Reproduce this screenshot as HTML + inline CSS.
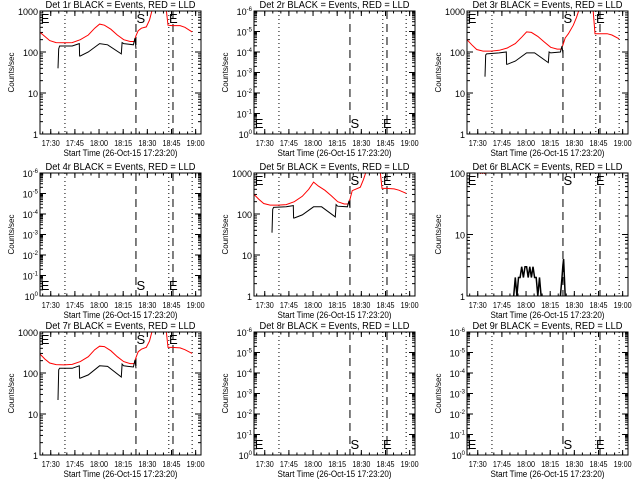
<!DOCTYPE html>
<html><head><meta charset="utf-8"><style>
body{margin:0;background:#fff}
svg{display:block;font-family:"Liberation Sans",sans-serif}
</style></head><body>
<svg id="c" width="640" height="480" xmlns="http://www.w3.org/2000/svg"></svg>
<script>
// time in minutes since 17:23:20, range 0..100
const tickLabels=["17:30","17:45","18:00","18:15","18:30","18:45","19:00"];
const tickMinutes=[6.67,21.67,36.67,51.67,66.67,81.67,96.67];
const dottedLines=[15.5,80,94.5];
const dashedLines=[59.6,82.6];
const red1T=[0,3,6,10,15,20,25,30,34,37,40,44,48,52,56,58.5,59.6,61,63,66,68,70,72,78,79.5,82,87,90,94.5];
const red1V=[300,240,190,170,168,170,200,260,380,480,450,360,260,200,180,180,250,330,380,410,600,1200,1500,1500,450,440,440,400,310];
const blk1T=[11.2,11.6,12.2,20,24.4,24.6,25,30,37,42,50.5,51,52,58,59,59.6];
const blk1V=[40,120,140,140,160,80,80,100,160,150,90,170,160,150,220,120];
const red3V=[200,150,115,105,105,110,125,160,230,310,300,240,175,130,118,118,150,220,280,450,700,1200,1500,1500,280,280,280,260,210];
const blk3V=[25,85,90,95,100,50,50,60,95,95,55,100,95,100,140,90];
const red5V=[300,230,180,165,165,170,200,270,400,600,480,380,280,200,175,175,230,370,400,450,700,1200,1500,1500,420,420,410,380,320];
const blk5V=[35,130,145,150,160,80,80,95,150,150,85,170,155,150,210,140];
const red7V=[290,220,175,160,158,162,190,250,370,450,440,350,250,190,170,170,240,330,380,420,600,1200,1500,1500,420,420,410,370,300];
const blk7V=[22,120,130,130,150,75,75,90,150,145,80,165,150,140,210,130];
const blk6T=[29,30,31,32,33,34,35,36,37,38,39,40,41,42,43,44,45,46,47,58,59,59.5,60,60.5,61];
const blk6V=[1,2,1,2,2,3,2,3,3,2,3,2,3,2,2,1,2,1,1,1,2,3,4,2,1];
const NS='http://www.w3.org/2000/svg';
const svg=document.getElementById('c');
function el(t,a,p){const e=document.createElementNS(NS,t);for(const k in a)e.setAttribute(k,a[k]);(p||svg).appendChild(e);return e;}
const cols=[40,254,467],rows=[11,173,332],W=161,H=123;
const panels=[
 {n:1,type:'data',r:red1V,b:blk1V},{n:2,type:'empty'},{n:3,type:'data',r:red3V,b:blk3V},
 {n:4,type:'empty'},{n:5,type:'data',r:red5V,b:blk5V},{n:6,type:'six'},
 {n:7,type:'data',r:red7V,b:blk7V},{n:8,type:'empty'},{n:9,type:'empty'}];
panels.forEach((p,i)=>{
 const L=cols[i%3],T=rows[Math.floor(i/3)],B=T+H,R=L+W;
 const g=el('g',{});
 
 
 const xs=m=>L+m*W/100;
 let ymin,ymax;
 if(p.type=='data'){ymin=0;ymax=3;} else if(p.type=='six'){ymin=0;ymax=2;} else {ymin=0;ymax=6;}
 const ys=v=>{let lv=Math.log10(v);lv=Math.max(ymin-0.1,Math.min(ymax+0.3,lv));return B-(lv-ymin)/(ymax-ymin)*H;};
 const ysl=l=>B-(l-ymin)/(ymax-ymin)*H;
 const tt=el('text',{x:L+W/2-75,y:T-3,'font-size':10,textLength:150,lengthAdjust:'spacingAndGlyphs'},g);
 tt.textContent='Det '+p.n+'r BLACK = Events, RED = LLD';
 
 
 const cp=el('clipPath',{id:'cp'+i},g);el('rect',{x:L,y:T,width:W,height:H},cp);
 tickMinutes.forEach((m,k)=>{
  const x=xs(m);
  el('line',{x1:x,x2:x,y1:B,y2:B-5,stroke:'#000'},g);el('line',{x1:x,x2:x,y1:T,y2:T+5,stroke:'#000'},g);
  const t=el('text',{x:x-9,y:B+12,'font-size':8,textLength:18,lengthAdjust:'spacingAndGlyphs'},g);t.textContent=tickLabels[k];
 });
 for(let m=1.67;m<100;m+=5){const x=xs(m);el('line',{x1:x,x2:x,y1:B,y2:B-2.5,stroke:'#000'},g);el('line',{x1:x,x2:x,y1:T,y2:T+2.5,stroke:'#000'},g);}
 const xl=el('text',{x:L+W/2-57,y:B+22,'font-size':9,textLength:114,lengthAdjust:'spacingAndGlyphs'},g);xl.textContent='Start Time (26-Oct-15 17:23:20)';
 
 
 const yl=el('text',{x:0,y:0,'text-anchor':'middle','font-size':8,transform:`translate(${L-26},${T+H/2}) rotate(-90)`},g);yl.textContent='Counts/sec';
 
 
 for(let d=ymin;d<=ymax;d++){
  const y=ysl(d);
  el('line',{x1:L,x2:L+6,y1:y,y2:y,stroke:'#000'},g);el('line',{x1:R,x2:R-6,y1:y,y2:y,stroke:'#000'},g);
  const t=el('text',{x:L-2,y:y+4,'text-anchor':'end','font-size':9},g);
  if(p.type=='empty'){
   t.textContent='10';const s=el('tspan',{dy:-4,'font-size':6},t);s.textContent=d==0?'0':'-'+d;
  } else t.textContent=String(Math.pow(10,d));
  if(d<ymax)for(let k=2;k<10;k++){const yy=ysl(d+Math.log10(k));el('line',{x1:L,x2:L+3,y1:yy,y2:yy,stroke:'#000'},g);el('line',{x1:R,x2:R-3,y1:yy,y2:yy,stroke:'#000'},g);}
 }
 dottedLines.forEach(m=>el('line',{x1:xs(m),x2:xs(m),y1:T,y2:B,stroke:'#000','stroke-dasharray':'1,3'},g));
 dashedLines.forEach(m=>el('line',{x1:xs(m),x2:xs(m),y1:T,y2:B,stroke:'#000','stroke-dasharray':'8,5'},g));
 const cg=el('g',{'clip-path':`url(#cp${i})`},g);
 if(p.type=='data'){
  let d='';red1T.forEach((m,k)=>{d+=(k?'L':'M')+xs(m).toFixed(1)+','+ys(p.r[k]).toFixed(1);});
  const pr=el('path',{d:d,fill:'none',stroke:'#f00'},cg);
  
  
  d='';blk1T.forEach((m,k)=>{d+=(k?'L':'M')+xs(m).toFixed(1)+','+ys(p.b[k]).toFixed(1);});
  const pb=el('path',{d:d,fill:'none',stroke:'#000'},cg);
  
  
 }
 if(p.type=='six'){
  let d='';blk6T.forEach((m,k)=>{d+=(k&&blk6T[k]-blk6T[k-1]<3?'L':'M')+xs(m).toFixed(1)+','+ys(blk6V[k]).toFixed(1);});
  const pb=el('path',{d:d,fill:'none',stroke:'#000','stroke-width':1.5},cg);
  
  
  el('line',{x1:xs(8),x2:xs(12),y1:T+0.5,y2:T+0.5,stroke:'#f00','stroke-dasharray':'1,1'},g);
 }
 const my=p.type=='empty'?B-6:T+12;
 [['E',0.5],['S',dashedLines[0]+0.3],['E',dashedLines[1]-2.5]].forEach(([s,m])=>{
  const t=el('text',{x:xs(m),y:my,'font-size':13},g);t.textContent=s;
 });
 el('rect',{x:L,y:T,width:W,height:H,fill:'none',stroke:'#000'},g);
});
</script>
</body></html>
